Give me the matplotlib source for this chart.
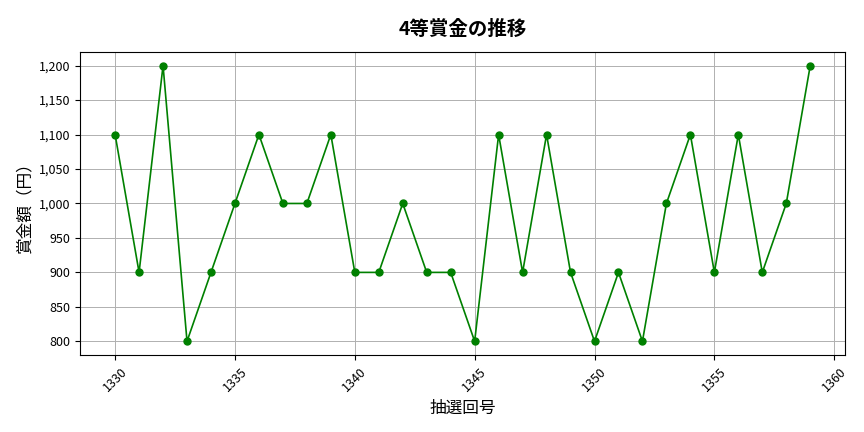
import matplotlib.pyplot as plt
from matplotlib.ticker import FuncFormatter

plt.rcParams['font.family'] = ['Noto Sans CJK JP', 'DejaVu Sans']

draws = list(range(1330, 1360))
prize = [1100, 900, 1200, 800, 900, 1000, 1100, 1000, 1000, 1100,
         900, 900, 1000, 900, 900, 800, 1100, 900, 1100, 900,
         800, 900, 800, 1000, 1100, 900, 1100, 900, 1000, 1200]

fig, ax = plt.subplots(figsize=(8.64, 4.32), dpi=100)
fig.subplots_adjust(left=0.093, right=0.978, top=0.88, bottom=0.178)

ax.plot(draws, prize, color='green', marker='o', markersize=5, linewidth=1.2)
ax.set_title('4等賞金の推移', fontsize=14, fontweight='bold', pad=12)
ax.set_xlabel('抽選回号', fontsize=12)
ax.set_ylabel('賞金額（円）', fontsize=12)
ax.yaxis.set_major_formatter(FuncFormatter(lambda v, p: f'{int(v):,}'))
ax.tick_params(axis='x', rotation=45, labelsize=9)
ax.tick_params(axis='y', labelsize=9)
ax.grid(True, color='#b0b0b0', linewidth=0.7)

fig.savefig('out.png')
